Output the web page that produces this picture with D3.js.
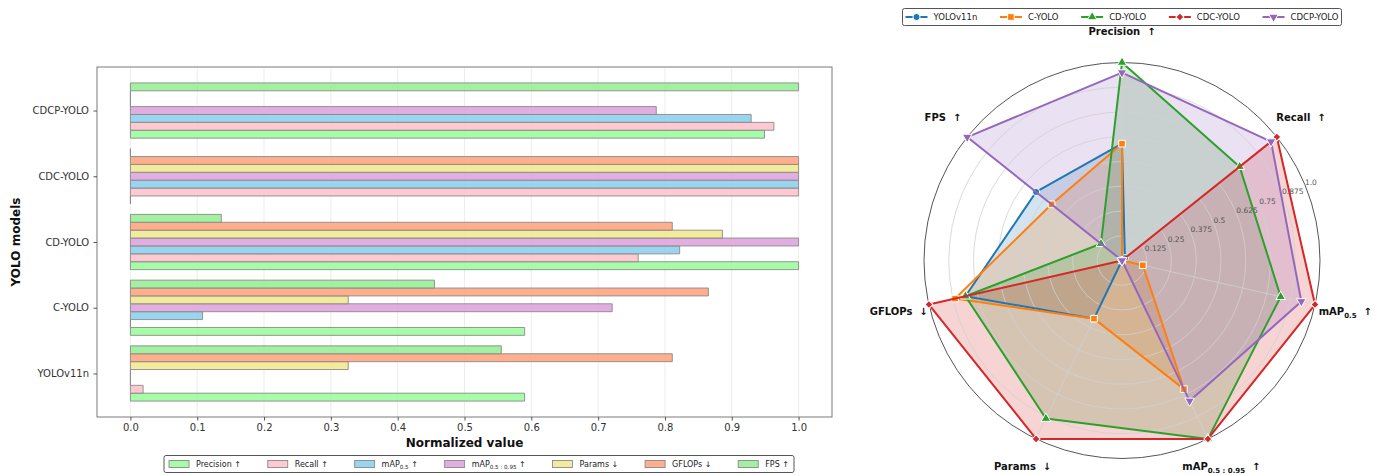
<!DOCTYPE html>
<html>
<head>
<meta charset="utf-8">
<script src="https://cdn.jsdelivr.net/npm/d3@7"></script>
<style>
  body { margin: 0; background: #fff; }
  svg { display: block; font-family: "DejaVu Sans", sans-serif; }
  text { white-space: pre; }
</style>
</head>
<body>
<svg id="chart" width="1387" height="475"></svg>
<script>
// ---- data: normalized scores per model (order of `models`) ----
const models = ["YOLOv11n", "C-YOLO", "CD-YOLO", "CDC-YOLO", "CDCP-YOLO"];

const precision = [0.590, 0.590, 1.000, 0.000, 0.949];
const recall    = [0.019, 0.000, 0.760, 1.000, 0.963];
const map50     = [0.000, 0.108, 0.822, 1.000, 0.929];
const map5095   = [0.000, 0.721, 1.000, 1.000, 0.787];
const params    = [0.326, 0.326, 0.886, 1.000, 0.000];
const gflops    = [0.811, 0.865, 0.811, 1.000, 0.000];
const fps       = [0.555, 0.455, 0.136, 0.000, 1.000];

// metric labels: base text, optional subscript, direction arrow
const metricBase   = ["Precision", "Recall", "mAP", "mAP", "Params", "GFLOPs", "FPS"];
const metricSub    = ["", "", "0.5", "0.5 : 0.95", "", "", ""];
const metricArrow  = ["↑", "↑", "↑", "↑", "↓", "↓", "↑"];

const xTicks = [0.0, 0.1, 0.2, 0.3, 0.4, 0.5, 0.6, 0.7, 0.8, 0.9, 1.0];
const radarTicks = [0, 0.125, 0.25, 0.375, 0.5, 0.625, 0.75, 0.875, 1.0];
const radarTickLabels = ["0", "0.125", "0.25", "0.375", "0.5", "0.625", "0.75", "0.875", "1.0"];

const metricValues = [precision, recall, map50, map5095, params, gflops, fps];

const barColors = ["#98fb98", "#ffc0cb", "#87ceeb", "#dda0dd", "#f0e68c", "#ffa07a", "#90ee90"];
const lineColors = ["#1f77b4", "#ff7f0e", "#2ca02c", "#d62728", "#9467bd"];

const svg = d3.select("#chart");

// writes a metric label (with optional subscript) into a <text>
function metricLabel(sel, i, size, gap) {
  sel.append("tspan").text(metricBase[i]);
  if (metricSub[i]) {
    sel.append("tspan").attr("font-size", size * 0.7).attr("dy", size * 0.28).text(metricSub[i]);
    sel.append("tspan").attr("dy", -size * 0.28).text(gap + metricArrow[i]);
  } else {
    sel.append("tspan").text(gap + metricArrow[i]);
  }
}

// ================= horizontal grouped bar chart =================
const plot = { left: 97, right: 832, top: 67, bottom: 417 };
const barH = 0.12;
const x = d3.scaleLinear().domain([-0.05, 1.05]).range([plot.left, plot.right]);
const y = d3.scaleLinear().domain([-0.662, 4.662]).range([plot.bottom, plot.top]);

const barG = svg.append("g");

// vertical grid
barG.append("g").selectAll("line").data(xTicks).join("line")
  .attr("x1", d => x(d)).attr("x2", d => x(d))
  .attr("y1", plot.top).attr("y2", plot.bottom)
  .attr("stroke", "#e8e8e8").attr("stroke-width", 0.8);

// bars (paths so that zero-length bars still show their edge)
metricValues.forEach((vals, m) => {
  const off = (m - 3) * barH;
  barG.append("g").selectAll("path").data(vals).join("path")
    .attr("d", (v, k) => {
      const y0 = y(k + off + barH / 2), y1 = y(k + off - barH / 2);
      const x0 = x(0), x1 = x(v);
      return `M${x0},${y0}H${x1}V${y1}H${x0}Z`;
    })
    .attr("fill", barColors[m]).attr("fill-opacity", 0.85)
    .attr("stroke", "#8a8a8a").attr("stroke-width", 0.9);
});

// frame
barG.append("rect")
  .attr("x", plot.left).attr("y", plot.top)
  .attr("width", plot.right - plot.left).attr("height", plot.bottom - plot.top)
  .attr("fill", "none").attr("stroke", "#7a7a7a").attr("stroke-width", 1);

// x axis
const xAxis = d3.axisBottom(x).tickValues(xTicks).tickFormat(d3.format(".1f")).tickSize(3.5).tickPadding(3.5);
const gx = barG.append("g").attr("transform", `translate(0,${plot.bottom})`).call(xAxis);
gx.select(".domain").remove();
gx.selectAll("line").attr("stroke", "#555");
gx.selectAll("text").attr("font-size", 10).attr("fill", "#333").attr("font-family", "DejaVu Sans");

// y axis
const yAxis = d3.axisLeft(y).tickValues(d3.range(models.length)).tickFormat(i => models[i]).tickSize(3.5).tickPadding(4.5);
const gy = barG.append("g").attr("transform", `translate(${plot.left},0)`).call(yAxis);
gy.select(".domain").remove();
gy.selectAll("line").attr("stroke", "#555");
gy.selectAll("text").attr("font-size", 10).attr("fill", "#333").attr("font-family", "DejaVu Sans");

// axis titles
barG.append("text").attr("x", (plot.left + plot.right) / 2).attr("y", 447)
  .attr("text-anchor", "middle").attr("font-size", 12).attr("font-weight", "bold")
  .attr("fill", "#111").text("Normalized value");
barG.append("text").attr("transform", `translate(20,${(plot.top + plot.bottom) / 2}) rotate(-90)`)
  .attr("text-anchor", "middle").attr("font-size", 12).attr("font-weight", "bold")
  .attr("fill", "#111").text("YOLO models");

// bar legend
(function () {
  const g = svg.append("g");
  const fs = 8, patchW = 20, patchH = 7, pad = 7;
  const items = metricBase.map((_, i) => {
    const ig = g.append("g");
    ig.append("rect").attr("x", 0).attr("y", -patchH / 2).attr("width", patchW).attr("height", patchH)
      .attr("fill", barColors[i]).attr("fill-opacity", 0.85).attr("stroke", "#8a8a8a").attr("stroke-width", 0.9);
    const t = ig.append("text").attr("x", patchW + pad).attr("y", 0).attr("dy", "0.35em")
      .attr("font-size", fs).attr("fill", "#222");
    metricLabel(t, i, fs, " ");
    return { g: ig, w: patchW + pad + t.node().getComputedTextLength() };
  });
  const boxL = 164, boxR = 794, inner = 5;
  const total = d3.sum(items, d => d.w);
  const gap = (boxR - boxL - 2 * inner - total) / (items.length - 1);
  let cx0 = boxL + inner;
  items.forEach(it => { it.g.attr("transform", `translate(${cx0},464)`); cx0 += it.w + gap; });
  g.insert("rect", ":first-child").attr("x", boxL).attr("y", 455.5).attr("width", boxR - boxL).attr("height", 17)
    .attr("rx", 2).attr("fill", "#fff").attr("stroke", "#555").attr("stroke-width", 1);
})();

// ================= radar chart =================
const cx = 1122, cy = 260.5, R = 198;
const r = d3.scaleLinear().domain([0, 1]).range([0, R]);
const nM = metricBase.length;
const ang = i => i * 2 * Math.PI / nM;
const pt = (i, v) => [cx + r(v) * Math.sin(ang(i)), cy - r(v) * Math.cos(ang(i))];

const radar = svg.append("g");
const radial = d3.lineRadial().angle((d, i) => ang(i)).radius(d => r(d)).curve(d3.curveLinearClosed);
const seriesOf = k => metricValues.map(arr => arr[k]);

// fills
models.forEach((mdl, k) => {
  radar.append("path").attr("transform", `translate(${cx},${cy})`)
    .attr("d", radial(seriesOf(k))).attr("fill", lineColors[k]).attr("fill-opacity", 0.2).attr("stroke", "none");
});

// grid
radar.append("g").selectAll("circle").data(radarTicks.filter(t => t > 0 && t < 1)).join("circle")
  .attr("cx", cx).attr("cy", cy).attr("r", d => r(d))
  .attr("fill", "none").attr("stroke", "#d0d0d0").attr("stroke-width", 0.8);
radar.append("g").selectAll("line").data(d3.range(nM)).join("line")
  .attr("x1", cx).attr("y1", cy)
  .attr("x2", i => pt(i, 1)[0]).attr("y2", i => pt(i, 1)[1])
  .attr("stroke", "#d0d0d0").attr("stroke-width", 0.8);
radar.append("circle").attr("cx", cx).attr("cy", cy).attr("r", r(1))
  .attr("fill", "none").attr("stroke", "#555").attr("stroke-width", 1);

// radial tick labels along 22.5°
const la = 22.5 * Math.PI / 180;
radar.append("g").selectAll("text").data(radarTicks).join("text")
  .attr("x", d => cx + r(d) * Math.cos(la)).attr("y", d => cy - r(d) * Math.sin(la))
  .attr("font-size", 7.5).attr("fill", "#555")
  .text((d, i) => radarTickLabels[i]);

// markers
const markerPath = [
  d3.symbol(d3.symbolCircle, 40)(),
  d3.symbol(d3.symbolSquare, 44)(),
  d3.symbol(d3.symbolTriangle, 40)(),
  d3.symbol(d3.symbolSquare, 32)(),
  d3.symbol(d3.symbolTriangle, 40)()
];
const markerRot = [0, 0, 0, 45, 180];

function drawMarker(g, k, px, py) {
  g.append("path").attr("d", markerPath[k])
    .attr("transform", `translate(${px},${py}) rotate(${markerRot[k]})`)
    .attr("fill", lineColors[k]).attr("stroke", "#fff").attr("stroke-width", 1);
}

models.forEach((mdl, k) => {
  const vals = seriesOf(k);
  radar.append("path").attr("transform", `translate(${cx},${cy})`)
    .attr("d", radial(vals)).attr("fill", "none")
    .attr("stroke", lineColors[k]).attr("stroke-width", 2).attr("stroke-linejoin", "round");
  const mg = radar.append("g");
  vals.forEach((v, i) => { const [px, py] = pt(i, v); drawMarker(mg, k, px, py); });
});

// metric labels around the radar
metricBase.forEach((_, i) => {
  const [lx, ly] = pt(i, 229 / R);
  const t = radar.append("text").attr("x", lx).attr("y", ly).attr("dy", "0.35em")
    .attr("text-anchor", "middle").attr("font-size", 10).attr("font-weight", "bold").attr("fill", "#111");
  metricLabel(t, i, 10, "  ");
});

// radar legend
(function () {
  const g = svg.append("g");
  const fs = 8.5, handleW = 22, pad = 6;
  const items = models.map((mdl, k) => {
    const ig = g.append("g");
    ig.append("line").attr("x1", 0).attr("x2", handleW).attr("y1", 0).attr("y2", 0)
      .attr("stroke", lineColors[k]).attr("stroke-width", 2);
    drawMarker(ig, k, handleW / 2, 0);
    const t = ig.append("text").attr("x", handleW + pad).attr("y", 0).attr("dy", "0.35em")
      .attr("font-size", fs).attr("fill", "#222").text(mdl);
    return { g: ig, w: handleW + pad + t.node().getComputedTextLength() };
  });
  const boxL = 902.5, boxR = 1341.5, inner = 3;
  const total = d3.sum(items, d => d.w);
  const gap = (boxR - boxL - 2 * inner - total) / (items.length - 1);
  let x0 = boxL + inner;
  items.forEach(it => { it.g.attr("transform", `translate(${x0},17)`); x0 += it.w + gap; });
  g.insert("rect", ":first-child").attr("x", boxL).attr("y", 8.5).attr("width", boxR - boxL).attr("height", 17)
    .attr("rx", 2).attr("fill", "#fff").attr("stroke", "#555").attr("stroke-width", 1);
})();
</script>
</body>
</html>
